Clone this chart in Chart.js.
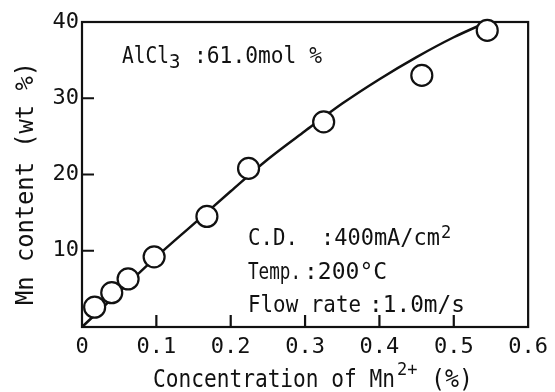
<!DOCTYPE html>
<html><head><meta charset="utf-8">
<script src="https://cdn.jsdelivr.net/npm/chart.js@4/dist/chart.umd.min.js"></script>
<style>html,body{margin:0;padding:0;background:#fff;}canvas{display:block;}</style>
</head><body>
<canvas id="c" width="555" height="392"></canvas>
<script>
// Measured points: concentration of Mn2+ (%) vs Mn content (wt %)
const concentration = [0.017, 0.04, 0.062, 0.097, 0.168, 0.224, 0.325, 0.457, 0.545];
const mnContent     = [2.6, 4.5, 6.3, 9.2, 14.5, 20.8, 26.9, 33.0, 38.9];
// Drawn fit curve
const fitConcentration = [0, 0.05, 0.1, 0.15, 0.2, 0.25, 0.3, 0.35, 0.4, 0.45, 0.5, 0.545];
const fitMnContent     = [0, 4.6, 9.2, 13.5, 17.8, 22.0, 25.7, 29.3, 32.5, 35.4, 38.0, 40.0];
// Axes
const xRange = [0, 0.6];
const yRange = [0, 40];
const xStep = 0.1;
const yStep = 10;

const FONT = '"DejaVu Sans Mono", monospace';
const INK = '#111';

function put(ctx, s, x, y, size, maxW) {
  ctx.font = size + 'px ' + FONT;
  if (maxW) ctx.fillText(s, x, y, maxW); else ctx.fillText(s, x, y);
}

const framePlugin = {
  id: 'frame',
  beforeDatasetsDraw(chart) {
    const {ctx, chartArea: a, scales: {x, y}} = chart;
    ctx.save();
    ctx.strokeStyle = INK;
    ctx.lineWidth = 2.2;
    ctx.strokeRect(a.left, a.top, a.right - a.left, a.bottom - a.top);
    ctx.beginPath();
    y.ticks.forEach(t => {
      if (t.value > y.min && t.value < y.max) {
        const p = y.getPixelForValue(t.value);
        ctx.moveTo(a.left, p); ctx.lineTo(a.left + 12, p);
      }
    });
    x.ticks.forEach(t => {
      if (t.value > x.min + 1e-9 && t.value < x.max - 1e-9) {
        const p = x.getPixelForValue(t.value);
        ctx.moveTo(p, a.bottom); ctx.lineTo(p, a.bottom - 12);
      }
    });
    ctx.stroke();
    ctx.restore();
  },
  afterDraw(chart) {
    const ctx = chart.ctx;
    ctx.save();
    ctx.fillStyle = INK;
    ctx.textAlign = 'left';
    ctx.textBaseline = 'alphabetic';
    // AlCl3 annotation
    put(ctx, 'AlCl', 122, 63, 23, 47);
    put(ctx, '3', 169, 68, 19);
    put(ctx, ':61.0mol %', 194, 63, 23, 128);
    // Conditions
    put(ctx, 'C.D.', 248, 245, 23, 50);
    put(ctx, ':400mA/cm', 321, 245, 23, 119);
    put(ctx, '2', 441, 238, 17);
    put(ctx, 'Temp.', 248, 279, 23, 53);
    put(ctx, ':200°C', 304, 279, 23, 96);
    put(ctx, 'Flow rate', 248, 312, 23, 113);
    put(ctx, ':1.0m/s', 369, 312, 23, 96);
    // X axis title
    put(ctx, 'Concentration of Mn', 153, 387, 24, 242);
    put(ctx, '2+', 397, 375, 17, 26);
    put(ctx, '(%)', 431, 387, 24, 42);
    // Y axis title
    ctx.translate(33, 305);
    ctx.rotate(-Math.PI / 2);
    put(ctx, 'Mn content (wt %)', 0, 0, 25, 243);
    ctx.restore();
  }
};

new Chart(document.getElementById('c'), {
  type: 'scatter',
  data: {
    datasets: [
      {
        label: 'Measured',
        data: concentration.map((v, i) => ({x: v, y: mnContent[i]})),
        pointRadius: 10.5,
        pointHoverRadius: 10.5,
        pointBorderWidth: 2.2,
        pointBackgroundColor: '#fff',
        pointBorderColor: INK,
        showLine: false,
        clip: false
      },
      {
        label: 'Fit',
        data: fitConcentration.map((v, i) => ({x: v, y: fitMnContent[i]})),
        showLine: true,
        pointRadius: 0,
        borderColor: INK,
        borderWidth: 2.5,
        cubicInterpolationMode: 'monotone',
        clip: false
      }
    ]
  },
  options: {
    responsive: false,
    animation: false,
    events: [],
    layout: {padding: {top: 22, right: 22, left: 0, bottom: 0}},
    plugins: {legend: {display: false}, tooltip: {enabled: false}},
    scales: {
      x: {
        type: 'linear',
        min: xRange[0], max: xRange[1],
        grid: {display: false, drawTicks: false},
        border: {display: false},
        ticks: {
          stepSize: xStep,
          padding: 7,
          color: INK,
          font: {family: FONT, size: 22},
          maxRotation: 0,
          callback: v => (Math.abs(v) < 1e-9 ? '0' : v.toFixed(1))
        },
        afterFit: s => { s.height = 65; }
      },
      y: {
        type: 'linear',
        min: yRange[0], max: yRange[1],
        grid: {display: false, drawTicks: false},
        border: {display: false},
        ticks: {
          stepSize: yStep,
          padding: 3,
          color: INK,
          font: {family: FONT, size: 22},
          callback: v => (v === 0 ? '' : String(v))
        },
        afterFit: s => { s.width = 82; }
      }
    }
  },
  plugins: [framePlugin]
});
</script>
</body></html>
